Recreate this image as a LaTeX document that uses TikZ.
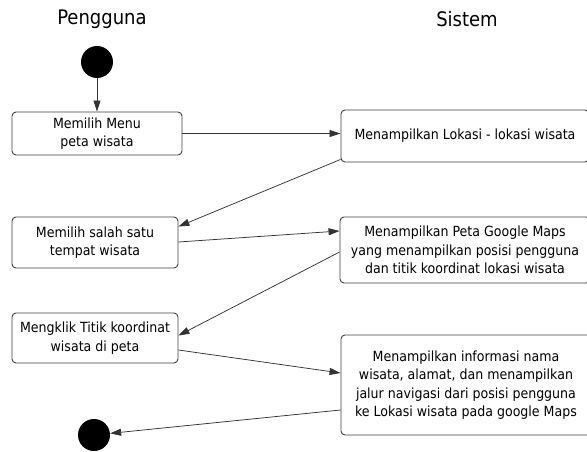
\documentclass[tikz,border=0pt]{standalone}
\usepackage{fontspec}
\setmainfont{DejaVu Sans Condensed}
\usetikzlibrary{arrows.meta,calc}

\tikzset{
  actbox/.style={draw=black!75, line width=0.9pt, rounded corners=4pt, fill=white,
    align=center, inner sep=0pt, font=\fontsize{14}{18.5}\selectfont},
  lane/.style={font=\fontsize{20}{24}\selectfont, anchor=base},
  flow/.style={draw=black!80, line width=0.75pt, -{Triangle[length=11pt,width=7pt]}},
  dot/.style={circle, fill=black, inner sep=0pt, minimum size=32pt}
}

\begin{document}
\begin{tikzpicture}[x=1pt, y=-1pt]
  \useasboundingbox (0,0) rectangle (587,452);
  \clip (0,0) rectangle (587,452);

  % swimlane titles
  \node[lane] (tUser) at (102,25) {Pengguna};
  \node[lane] (tSys)  at (467,27) {Sistem};

  % start and end
  \node[dot] (start) at (97,62) {};
  \node[dot] (stop)  at (94,435) {};

  % user actions
  \node[actbox, minimum width=170pt, minimum height=43pt] (b1) at (97,133.5)
    {Memilih Menu\\ peta wisata};
  \node[actbox, minimum width=166pt, minimum height=51pt] (b3) at (95,242.5)
    {Memilih salah satu\\ tempat wisata};
  \node[actbox, minimum width=166pt, minimum height=50pt] (b5) at (95,338)
    {Mengklik Titik koordinat\\ wisata di peta};

  % system responses
  \node[actbox, minimum width=248pt, minimum height=52pt] (b2) at (465,136)
    {Menampilkan Lokasi - lokasi wisata};
  \node[actbox, minimum width=250pt, minimum height=66pt] (b4) at (465,250)
    {Menampilkan Peta Google Maps\\ yang menampilkan posisi pengguna\\ dan titik koordinat lokasi wisata};
  \node[actbox, minimum width=250pt, minimum height=100pt] (b6) at (466,385)
    {Menampilkan informasi nama\\ wisata, alamat, dan menampilkan\\ jalur navigasi dari posisi pengguna\\ ke Lokasi wisata pada google Maps};

  % flow
  \draw[flow] (start) -- (b1);
  \draw[flow] (b1.east) -- (b1.east -| b2.west);
  \draw[flow] ($(b2.south west)+(0,-3)$) -- ($(b3.north east)+(0,10)$);
  \draw[flow] ($(b3.east)+(0,-0.5)$) -- ($(b4.west)+(0,-19)$);
  \draw[flow] ($(b4.west)+(0,2)$) -- ($(b5.north east)+(0,23)$);
  \draw[flow] ($(b5.east)+(0,12)$) -- ($(b6.west)+(0,-12)$);
  \draw[flow] ($(b6.west)+(0,25)$) -- (stop);
\end{tikzpicture}
\end{document}
